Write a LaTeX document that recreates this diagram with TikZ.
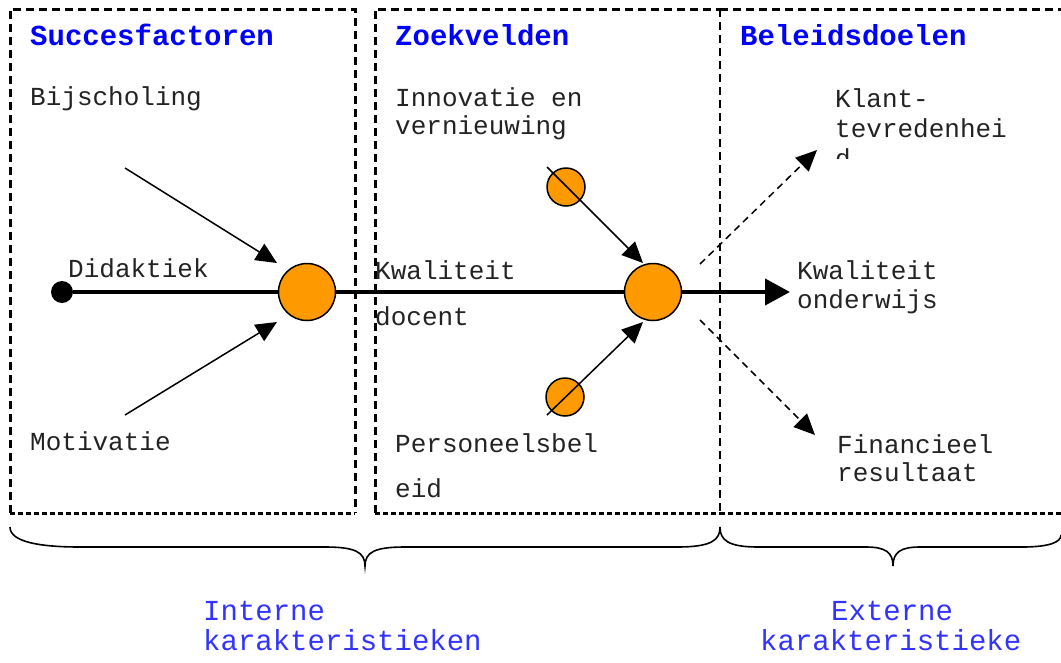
\documentclass[tikz,border=0pt]{standalone}
\usepackage{fontspec}
\setmonofont{Liberation Mono}
\usetikzlibrary{arrows.meta}
\definecolor{orng}{RGB}{255,153,0}
\definecolor{ttlc}{RGB}{0,0,255}
\definecolor{lblc}{RGB}{51,51,255}
\definecolor{txtc}{RGB}{35,35,35}
\begin{document}
\begin{tikzpicture}[x=1pt,y=-1pt,
  bodytxt/.style={anchor=base west,inner sep=0,font=\ttfamily\fontsize{26}{28}\selectfont,text=txtc},
  titletxt/.style={anchor=base west,inner sep=0,font=\ttfamily\bfseries\fontsize{29}{30}\selectfont,text=ttlc},
  bottxt/.style={anchor=base west,inner sep=0,font=\ttfamily\fontsize{29}{30}\selectfont,text=lblc},
  boxline/.style={line width=3pt,dash pattern=on 8pt off 5pt},
  boxbot/.style={line width=3pt,dash pattern=on 5pt off 3pt},
  bigc/.style={circle,draw=black,line width=1.5pt,fill=orng,minimum size=57pt,inner sep=0},
  smallc/.style={circle,draw=black,line width=1.5pt,fill=orng,minimum size=38pt,inner sep=0},
  blackdot/.style={circle,fill=black,minimum size=22pt,inner sep=0},
  mainline/.style={line width=4pt},
  thinarrow/.style={line width=1.5pt,-{Triangle[length=21pt,width=19pt]}},
  dasharrow/.style={line width=1.5pt,dash pattern=on 7pt off 5pt,-{Triangle[length=21pt,width=19pt]}},
  bracestyle/.style={line width=1.6pt}
]
\useasboundingbox (0,0) rectangle (1061,662);
\fill[white] (0,0) rectangle (1061,662);

% boxes
\draw[boxline] (10,513) -- (10,9) -- (355,9) -- (355,513);
\draw[boxbot] (10,513) -- (355,513);
\draw[boxline] (375,513) -- (375,9) -- (720,9);
\draw[boxline,line width=2.2pt] (720,9) -- (720,513);
\draw[boxbot] (375,513) -- (720,513);
\draw[boxline] (720,9) -- (1065,9);
\draw[boxbot] (720,513) -- (1065,513);

% titles
\node[titletxt] (t1) at (30,45) {Succesfactoren};
\node[titletxt] (t2) at (395,45) {Zoekvelden};
\node[titletxt] (t3) at (740,45) {Beleidsdoelen};

% labels
\node[bodytxt] (bij) at (30,105) {Bijscholing};
\node[bodytxt] (inn1) at (395,106) {Innovatie en};
\node[bodytxt] (inn2) at (395,134) {vernieuwing};
\node[bodytxt] (kl1) at (835,107) {Klant-};
\node[bodytxt] (kl2) at (835,137) {tevredenhei};
\begin{scope}
\clip (830,140) rectangle (900,158);
\node[bodytxt] (kl3) at (835,167) {d};
\end{scope}
\node[bodytxt] (did) at (68,277) {Didaktiek};
\node[bodytxt] (kd1) at (375,279) {Kwaliteit};
\node[bodytxt] (kd2) at (375,325) {docent};
\node[bodytxt] (ko1) at (797,279) {Kwaliteit};
\node[bodytxt] (ko2) at (797,308) {onderwijs};
\node[bodytxt] (mot) at (30,450) {Motivatie};
\node[bodytxt] (pb1) at (395,452) {Personeelsbel};
\node[bodytxt] (pb2) at (395,497) {eid};
\node[bodytxt] (fr1) at (837,453) {Financieel};
\node[bodytxt] (fr2) at (837,481) {resultaat};

% circles
\node[blackdot] (dot) at (62,292) {};
\node[bigc] (c1) at (307,292) {};
\node[bigc] (c2) at (653,292) {};
\node[smallc] (s1) at (566,187) {};
\node[smallc] (s2) at (565,397) {};

% coordinates for free ends
\coordinate (bijS) at (125,168);
\coordinate (bijT) at (277,263);
\coordinate (motS) at (125,415);
\coordinate (motT) at (277,322);
\coordinate (innS) at (547,167);
\coordinate (innT) at (643,263);
\coordinate (perS) at (547,415);
\coordinate (perT) at (643,322);
\coordinate (klS) at (700,264);
\coordinate (klT) at (817,150);
\coordinate (frS) at (700,320);
\coordinate (frT) at (815,435);
\coordinate (koT) at (790,292);

% main line
\draw[mainline] (dot) -- (c1);
\draw[mainline] (c1) -- (c2);
\draw[mainline,-{Triangle[length=25pt,width=26pt]}] (c2) -- (koT);

% arrows
\draw[thinarrow] (bijS) -- (bijT);
\draw[thinarrow] (motS) -- (motT);
\draw[thinarrow] (innS) -- (innT);
\draw[thinarrow] (perS) -- (perT);
\draw[dasharrow] (klS) -- (klT);
\draw[dasharrow] (frS) -- (frT);

% braces
\draw[bracestyle] (10,527) .. controls (10,542) and (40,547) .. (80,547) -- (325,547)
  .. controls (355,547) and (365,552) .. (365,566)
  .. controls (365,552) and (375,547) .. (405,547) -- (677,547)
  .. controls (712,547) and (720,540) .. (720,527);
\draw[bracestyle] (720,527) .. controls (720,540) and (728,547) .. (758,547) -- (866,547)
  .. controls (885,547) and (893,552) .. (893,566)
  .. controls (893,552) and (901,547) .. (920,547) -- (1022,547)
  .. controls (1050,547) and (1061,542) .. (1061,535);

% bottom labels
\node[bottxt] (int1) at (203,620) {Interne};
\node[bottxt] (int2) at (203,650) {karakteristieken};
\node[bottxt] (ext1) at (831,620) {Externe};
\node[bottxt] (ext2) at (760,650) {karakteristieke};
\end{tikzpicture}
\end{document}
